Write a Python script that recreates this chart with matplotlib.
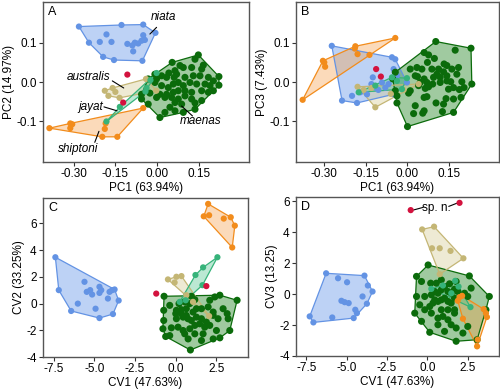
import matplotlib
matplotlib.use("Agg")
import matplotlib.pyplot as plt
import numpy as np

plt.rcParams['font.family'] = ['Liberation Sans', 'DejaVu Sans']
plt.rcParams['axes.unicode_minus'] = False

# ---------------- data ----------------
# Panel A : PC1 vs PC2
A_niata = [(-0.281,0.141),(-0.128,0.145),(-0.050,0.146),(-0.006,0.125),(-0.182,0.121),(-0.050,0.119),
           (-0.245,0.100),(-0.206,0.102),(-0.164,0.102),(-0.080,0.100),(-0.068,0.098),(-0.056,0.105),
           (-0.044,0.107),(-0.089,0.093),(-0.107,0.097),(-0.086,0.078),(-0.053,0.054),(-0.155,0.056),(-0.194,0.064)]
A_maenas = [(0.054,0.050),(0.148,0.069),(0.136,0.058),(0.166,0.043),(0.160,0.033),(0.124,0.037),(0.094,0.037),
            (0.082,0.042),(0.064,0.029),(0.070,0.020),(0.042,0.023),(0.016,0.016),(-0.002,0.008),(0.034,0.012),
            (0.061,0.012),(0.100,0.012),(0.130,0.016),(0.154,0.016),(0.184,0.012),(0.202,0.003),(0.222,0.014),
            (0.222,-0.008),(0.190,-0.009),(0.172,-0.005),(0.142,-0.005),(0.118,-0.001),(0.094,-0.009),(0.076,-0.001),
            (0.058,-0.005),(0.040,-0.014),(0.016,-0.009),(0.010,-0.031),(0.034,-0.031),(0.058,-0.026),(0.076,-0.022),
            (0.100,-0.022),(0.124,-0.026),(0.160,-0.022),(0.184,-0.026),(0.202,-0.022),(0.052,-0.039),(0.076,-0.043),
            (0.100,-0.035),(0.124,-0.043),(0.136,-0.053),(0.160,-0.047),(0.088,-0.056),(0.064,-0.052),(0.028,-0.039),
            (-0.002,-0.039),(-0.026,-0.028),(-0.056,-0.043),(-0.056,-0.031),(-0.032,-0.056),(0.010,-0.090),(0.136,-0.069),
            (0.064,-0.073),(0.046,-0.064),(0.094,-0.077),(0.028,-0.077),(-0.008,-0.001),(-0.032,0.008),(-0.008,0.020)]
A_shiptoni = [(-0.387,-0.117),(-0.312,-0.105),(-0.305,-0.107),(-0.312,-0.117),(-0.188,-0.119),(-0.185,-0.105),
              (-0.197,-0.139),(-0.143,-0.139),(-0.050,-0.066)]
A_australis = [(-0.188,-0.022),(-0.160,-0.015),(-0.150,-0.025),(-0.175,-0.035),(-0.040,0.008),(-0.003,-0.022),(-0.135,-0.040)]
A_jayat = [(-0.182,-0.100),(-0.134,-0.063),(-0.042,-0.024),(-0.038,-0.015),(-0.024,0.005),(-0.002,0.023)]
A_spn = [(-0.107,0.019),(-0.122,-0.052)]

# Panel B : PC1 vs PC3
B_niata = [(-0.273,0.092),(-0.056,0.063),(-0.044,0.058),(-0.125,0.012),(-0.200,-0.035),(-0.236,-0.047),
           (-0.182,-0.053),(-0.116,-0.014),(-0.080,-0.014),(-0.068,-0.005),(-0.050,-0.031),(-0.002,-0.001),
           (-0.170,-0.026),(-0.146,-0.031),(-0.092,-0.001),(-0.038,0.016),(-0.050,0.033),(-0.105,-0.020),(-0.130,-0.005)]
B_maenas = [(0.102,0.103),(0.229,0.086),(0.172,0.081),(0.060,0.075),(0.076,0.069),(0.097,0.060),(0.072,0.050),
            (0.010,0.033),(0.034,0.037),(0.052,0.033),(0.088,0.033),(0.112,0.033),(0.132,0.046),(0.142,0.042),
            (0.160,0.033),(0.184,0.037),(0.130,0.026),(0.106,0.020),(0.142,0.016),(0.178,0.020),(0.028,0.016),
            (0.036,0.014),(0.060,0.008),(0.070,-0.001),(0.091,-0.005),(0.118,-0.001),(0.142,0.003),(0.156,0.001),
            (0.196,0.001),(0.232,-0.005),(0.204,-0.014),(0.187,-0.019),(0.166,-0.014),(0.148,-0.018),(0.076,-0.012),
            (0.064,-0.016),(0.040,-0.009),(0.010,-0.022),(0.004,-0.028),(-0.044,-0.022),(0.060,-0.039),(0.070,-0.037),
            (0.103,-0.053),(0.139,-0.042),(0.166,-0.043),(0.193,-0.039),(0.130,-0.056),(0.060,-0.073),(0.055,-0.079),
            (0.028,-0.060),(0.022,-0.080),(-0.038,-0.053),(0.000,-0.113),(0.126,-0.075),(0.166,-0.077),(-0.044,0.025),
            (-0.053,0.008),(-0.038,-0.035),(0.094,0.012),(0.118,0.012),(0.046,-0.001)]
B_shiptoni = [(-0.378,-0.045),(-0.305,0.054),(-0.297,0.039),(-0.188,0.091),(-0.180,0.071),(-0.137,0.069),
              (-0.044,0.112),(-0.190,0.085),(-0.300,0.050)]
B_australis = [(-0.180,-0.012),(-0.116,-0.064),(0.040,-0.005),(-0.014,-0.020),(-0.158,-0.020),(-0.130,-0.015),(-0.060,-0.030)]
B_jayat = [(-0.176,-0.026),(-0.116,-0.009),(-0.056,0.012),(-0.038,0.003),(-0.020,-0.018),(-0.002,0.010)]
B_spn = [(-0.113,0.033),(-0.096,0.014)]

# Panel C : CV1 vs CV2
C_niata = [(-7.39,3.47),(-7.18,1.01),(-5.60,1.63),(-5.46,0.88),(-5.25,1.01),(-5.13,0.68),(-4.68,1.26),
           (-4.57,1.01),(-4.68,0.80),(-4.06,0.88),(-3.90,1.01),(-3.75,1.06),(-4.16,0.38),(-3.50,0.23),
           (-3.85,-0.78),(-4.68,-1.08),(-4.92,-0.38),(-6.01,0.00),(-6.42,-0.55)]
C_maenas = [(-0.71,0.55),(0.97,0.55),(2.72,0.63),(3.78,0.25),(2.41,0.50),(2.10,0.25),(1.18,0.30),(0.56,0.13),
            (0.21,0.00),(-0.73,-0.50),(0.05,-0.50),(0.35,-0.45),(0.66,-0.38),(0.01,-0.75),(0.35,-0.75),(0.66,-0.88),
            (1.07,-0.63),(1.28,-0.38),(1.59,-0.38),(2.00,-0.25),(2.31,-0.63),(2.92,-0.38),(-0.73,-1.26),(0.05,-1.13),
            (0.46,-1.01),(0.76,-1.13),(0.97,-1.26),(1.28,-1.01),(1.59,-1.13),(1.89,-1.38),(2.31,-0.88),(2.61,-1.13),
            (3.23,-1.13),(-0.78,-1.88),(-0.26,-1.81),(0.15,-1.76),(0.46,-2.01),(0.87,-1.88),(1.18,-1.63),(1.48,-1.51),
            (1.79,-1.76),(2.10,-1.63),(2.51,-2.01),(3.33,-2.01),(-0.36,-2.39),(0.56,-2.26),(1.18,-2.26),(1.69,-2.26),
            (2.31,-2.64),(0.77,-2.64),(1.59,-2.76),(2.72,-2.56),(0.91,-3.47),(-0.61,-2.46),(3.17,-0.75),(-0.36,-0.13),
            (0.87,0.00)]
C_shiptoni = [(2.00,7.46),(1.73,6.53),(2.06,6.61),(2.96,6.36),(3.39,6.46),(3.64,5.83),(3.48,4.20)]
C_australis = [(-0.47,1.81),(0.05,2.01),(0.36,2.06),(-0.06,1.58),(2.06,-0.93),(1.07,0.13),(0.66,0.63)]
C_jayat = [(2.57,3.47),(1.69,2.71),(1.22,2.14),(1.65,1.38),(0.25,0.13),(0.62,0.25)]
C_spn = [(-1.19,0.75),(1.89,1.31)]

# Panel D : CV1 vs CV3
D_niata = [(-6.28,1.35),(-5.54,1.03),(-4.98,0.77),(-3.90,1.20),(-3.69,0.56),(-3.40,0.17),(-4.02,-0.15),
           (-3.75,-0.62),(-4.47,-1.01),(-4.37,-1.23),(-4.57,-1.55),(-5.33,-0.43),(-5.13,-0.52),(-4.88,-0.58),
           (-5.90,-1.51),(-7.07,-1.83),(-7.30,-1.44)]
D_maenas = [(0.05,1.89),(-0.67,1.15),(-0.36,0.82),(0.21,0.71),(0.56,0.71),(0.87,0.92),(1.38,0.67),(1.79,0.82),
            (2.61,1.18),(2.72,0.39),(3.85,-0.15),(3.64,-1.01),(3.09,-2.95),(1.79,-3.05),(0.15,-2.47),(-0.78,-1.23),
            (-0.67,-0.15),(-0.47,-0.69),(-0.16,-0.15),(0.25,-0.04),(0.46,0.17),(0.66,0.06),(0.87,0.28),(1.07,0.49),
            (1.28,0.17),(1.48,0.06),(1.69,0.32),(1.89,0.17),(2.31,0.06),(2.51,-0.15),(0.46,-0.37),(0.35,-0.58),
            (0.66,-0.47),(0.87,-0.37),(1.07,-0.26),(1.28,-0.47),(1.48,-0.58),(1.69,-0.26),(0.15,-0.80),(-0.16,-1.01),
            (0.87,-1.01),(1.28,-1.01),(1.69,-1.01),(0.25,-1.23),(0.66,-1.55),(0.97,-1.44),(1.28,-1.66),(1.69,-1.23),
            (-0.36,-1.76),(0.66,-1.98),(1.48,-1.98),(1.07,-2.41),(2.21,-2.52),(2.51,-2.09),(1.79,-2.19)]
D_shiptoni = [(2.00,-0.19),(1.89,-0.43),(2.16,-0.11),(2.21,-1.59),(3.50,-0.97),(3.64,-1.23),(3.70,-1.48),
              (3.13,-2.95),(3.09,-3.38)]
D_australis = [(-0.32,4.19),(0.42,4.37),(0.29,2.97),(0.77,2.97),(1.44,2.80),(2.24,2.32),(0.77,1.29)]
D_jayat = [(0.25,0.34),(0.97,0.56),(1.73,0.86),(1.94,0.49),(2.68,-0.84),(1.49,0.06)]
D_spn = [(-1.03,5.44),(2.00,5.91)]

# ---------------- styling ----------------
COL = {
    'niata':     ('#6393e4', '#6d9de9'),
    'maenas':    ('#0b6b0b', '#2d8a2d'),
    'shiptoni':  ('#f28c1c', '#f5a04a'),
    'australis': ('#c4b675', '#d4c98f'),
    'jayat':     ('#36b37a', '#4cc48c'),
}
SPN_COL = '#d3123e'


def convex_hull(points):
    pts = sorted(set(points))
    if len(pts) < 3:
        return pts
    def cross(o, a, b):
        return (a[0]-o[0])*(b[1]-o[1]) - (a[1]-o[1])*(b[0]-o[0])
    lower, upper = [], []
    for p in pts:
        while len(lower) >= 2 and cross(lower[-2], lower[-1], p) <= 0:
            lower.pop()
        lower.append(p)
    for p in reversed(pts):
        while len(upper) >= 2 and cross(upper[-2], upper[-1], p) <= 0:
            upper.pop()
        upper.append(p)
    return lower[:-1] + upper[:-1]


def draw_group(ax, pts, name, alpha=0.35, s=20):
    pc, fc = COL[name]
    h = np.array(convex_hull(pts))
    ax.fill(h[:, 0], h[:, 1], facecolor=fc, alpha=alpha, edgecolor='none', zorder=1)
    hh = np.vstack([h, h[:1]])
    ax.plot(hh[:, 0], hh[:, 1], color=pc, lw=0.9, zorder=2)
    p = np.array(pts)
    ax.scatter(p[:, 0], p[:, 1], s=s, color=pc, edgecolors='none', zorder=3)


def draw_panel(ax, groups, spn):
    order = ['niata', 'maenas', 'shiptoni', 'australis', 'jayat']
    for name in order:
        draw_group(ax, groups[name], name,
                   alpha=0.45 if name in ('maenas', 'niata') else 0.38,
                   s=26 if name == 'maenas' else 20)
    p = np.array(spn)
    ax.scatter(p[:, 0], p[:, 1], s=20, color=SPN_COL, edgecolors='none', zorder=4)


def style(ax, letter):
    for sp in ax.spines.values():
        sp.set_color('#555555')
        sp.set_linewidth(1.0)
    ax.tick_params(direction='out', length=3, width=0.8, colors='#333333', labelsize=8.5,
                   labelcolor='black', pad=1.5)
    ax.text(0.025, 0.975, letter, transform=ax.transAxes, ha='left', va='top', fontsize=9)


fig = plt.figure(figsize=(5, 3.89), dpi=100)
axA = fig.add_axes([0.086, 0.5835, 0.412, 0.411])
axB = fig.add_axes([0.592, 0.5835, 0.406, 0.411])
axC = fig.add_axes([0.086, 0.082, 0.410, 0.409])
axD = fig.add_axes([0.592, 0.085, 0.406, 0.409])

draw_panel(axA, dict(niata=A_niata, maenas=A_maenas, shiptoni=A_shiptoni, australis=A_australis, jayat=A_jayat), A_spn)
draw_panel(axB, dict(niata=B_niata, maenas=B_maenas, shiptoni=B_shiptoni, australis=B_australis, jayat=B_jayat), B_spn)
draw_panel(axC, dict(niata=C_niata, maenas=C_maenas, shiptoni=C_shiptoni, australis=C_australis, jayat=C_jayat), C_spn)
draw_panel(axD, dict(niata=D_niata, maenas=D_maenas, shiptoni=D_shiptoni, australis=D_australis, jayat=D_jayat), D_spn)

pc_xticks = [-0.30, -0.15, 0.00, 0.15]
pc_yticks = [-0.1, 0.0, 0.1]
cv_xticks = [-7.5, -5.0, -2.5, 0.0, 2.5]
cv2_yticks = [-4, -2, 0, 2, 4, 6]
cv3_yticks = [-4, -2, 0, 2, 4, 6]

for ax in (axA, axB):
    ax.set_xlim(-0.41, 0.33)
    ax.set_ylim(-0.203, 0.203)
    ax.set_xticks(pc_xticks)
    ax.set_xticklabels(['%.2f' % v for v in pc_xticks])
    ax.set_yticks(pc_yticks)
    ax.set_yticklabels(['%.1f' % v for v in pc_yticks])
    ax.set_xlabel('PC1 (63.94%)', fontsize=8.5, labelpad=1)
axA.set_ylabel('PC2 (14.97%)', fontsize=8.5, labelpad=1)
axB.set_ylabel('PC3 (7.43%)', fontsize=8.5, labelpad=1)
axB.set_xlim(-0.402, 0.33)

for ax in (axC, axD):
    ax.set_xlim(-8.15, 4.45)
    ax.set_xticks(cv_xticks)
    ax.set_xticklabels(['%.1f' % v for v in cv_xticks])
    ax.set_xlabel('CV1 (47.63%)', fontsize=8.5, labelpad=1)
axC.set_ylim(-4, 7.9)
axC.set_yticks(cv2_yticks)
axC.set_ylabel('CV2 (33.25%)', fontsize=8.5, labelpad=1)
axD.set_ylim(-4, 6.3)
axD.set_yticks(cv3_yticks)
axD.set_ylabel('CV3 (13.25)', fontsize=8.5, labelpad=1)

style(axA, 'A'); style(axB, 'B'); style(axC, 'C'); style(axD, 'D')

# annotations in panel A
line = dict(arrowstyle='-', lw=0.8, color='black', shrinkA=0, shrinkB=0)
def label(ax, text, xy_text, xy_from, xy_to, ha='center'):
    ax.text(xy_text[0], xy_text[1], text, fontsize=8.5, style='italic', ha=ha, va='center', zorder=6)
    ax.annotate('', xy=xy_to, xytext=xy_from, arrowprops=line, zorder=6)

label(axA, 'niata', (0.022, 0.164), (-0.002, 0.139), (-0.026, 0.122))
label(axA, 'australis', (-0.248, 0.014), (-0.161, 0.003), (-0.120, -0.015))
label(axA, 'jayat', (-0.240, -0.063), (-0.191, -0.063), (-0.144, -0.073))
label(axA, 'maenas', (0.156, -0.098), (0.088, -0.061), (0.127, -0.086))
label(axA, 'shiptoni', (-0.285, -0.170), (-0.224, -0.153), (-0.209, -0.125))

# sp. n. label in panel D
axD.text(0.55, 5.6, 'sp. n.', fontsize=8.5, ha='center', va='center')
axD.annotate('', xy=(-0.85, 5.45), xytext=(-0.25, 5.62), arrowprops=line)
axD.annotate('', xy=(1.82, 5.88), xytext=(1.33, 5.68), arrowprops=line)

fig.savefig('out.png', dpi=100)
